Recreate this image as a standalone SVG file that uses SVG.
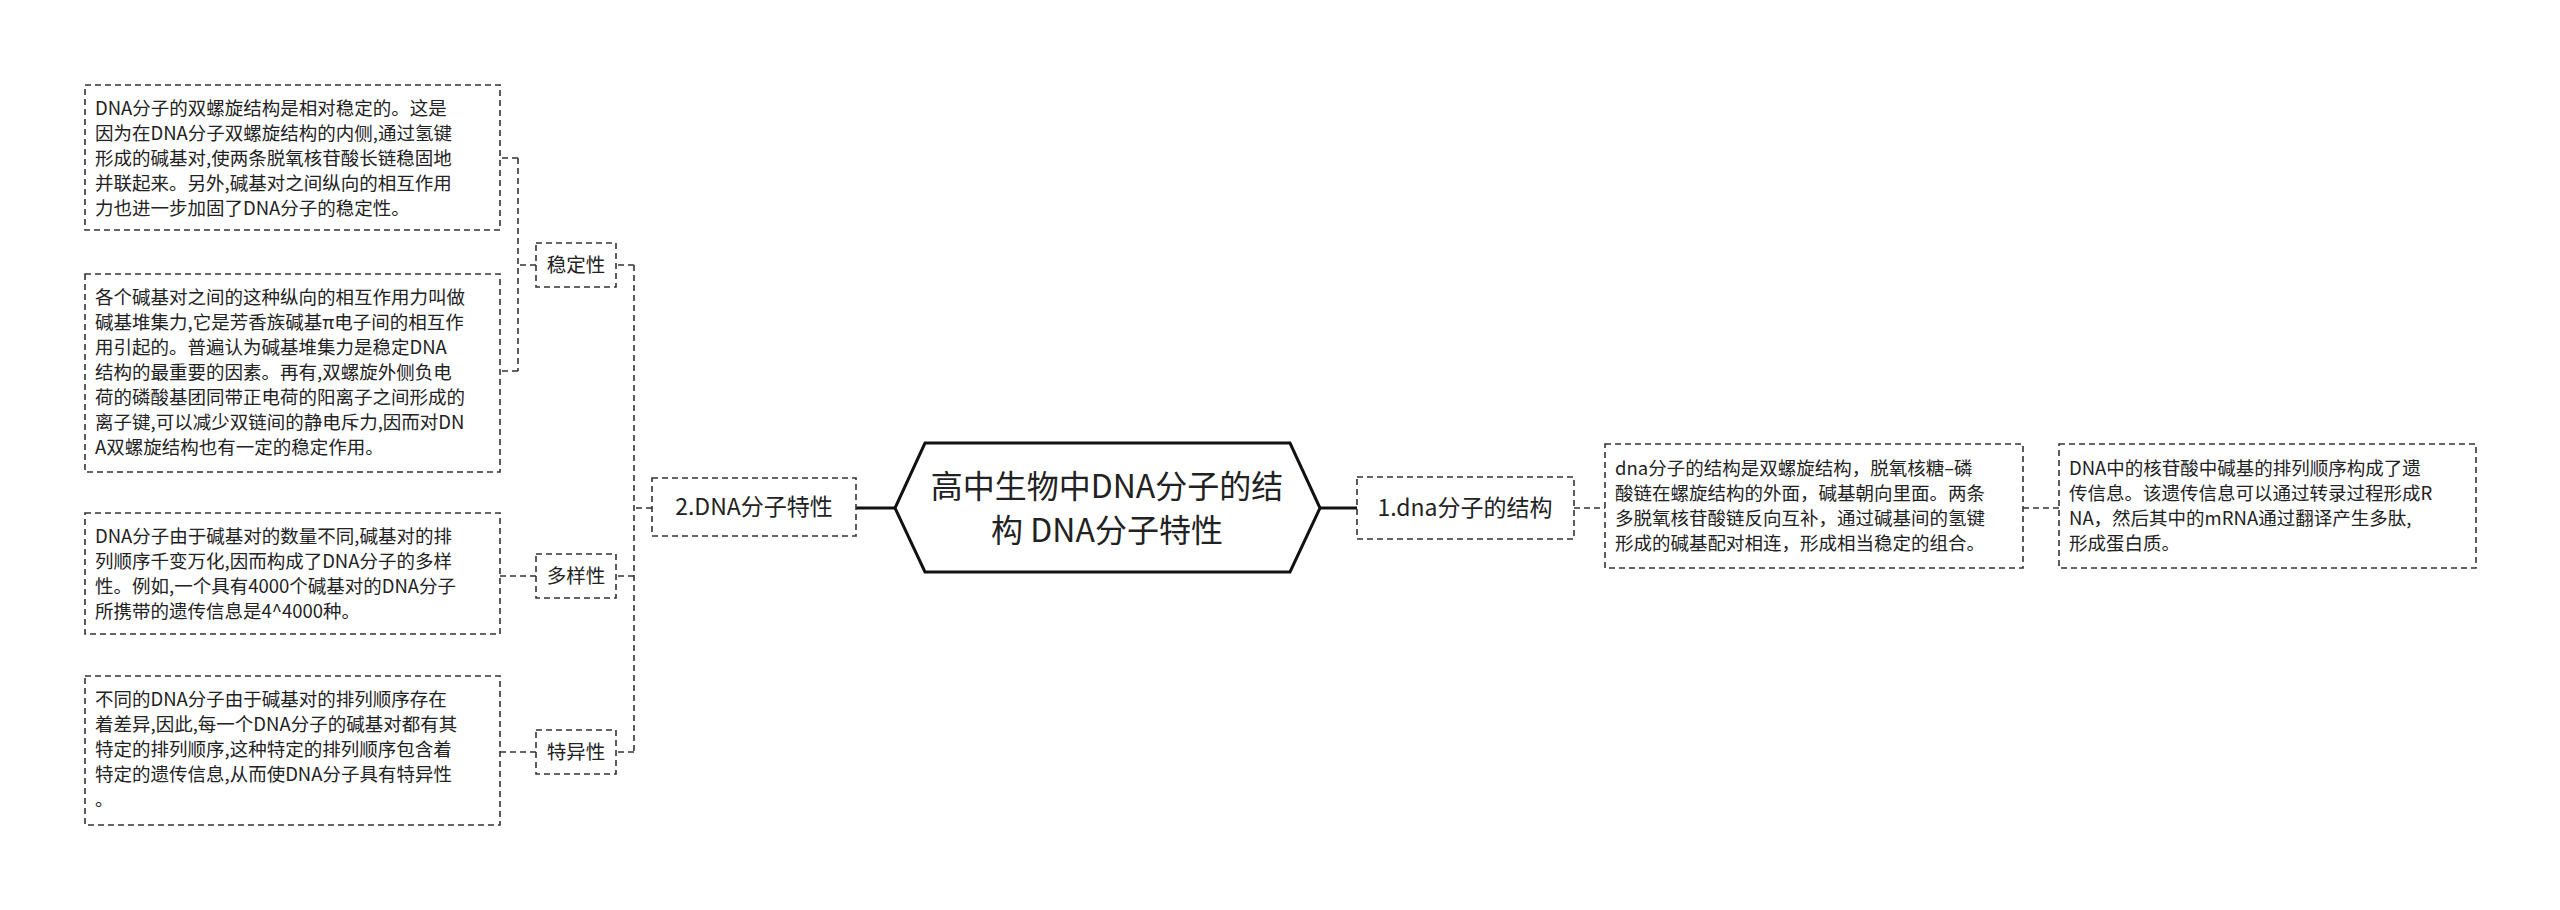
<svg xmlns="http://www.w3.org/2000/svg" width="2560" height="910" viewBox="0 0 2560 910">
<style>
text{font-family:"Noto Sans CJK SC","Noto Sans",sans-serif;fill:#222}
.t{font-size:18.5px}
.s{font-size:19.5px}
.b{fill:#fff;stroke:#333;stroke-width:1.6;stroke-dasharray:6,4}
.c{fill:none;stroke:#333;stroke-width:1.6;stroke-dasharray:6,4}
.m{fill:none;stroke:#111;stroke-width:3}
</style>
<rect width="2560" height="910" fill="#fff"/>
<g id="connectors">
<path class="m" d="M856 508H895M1320 508H1357"/>
<path class="c" d="M652 508H634M634 265V752M634 265H616M634 576H616M634 752H616"/>
<path class="c" d="M536 265H518M518 158V371M518 158H500M518 371H500"/>
<path class="c" d="M536 576H500M536 752H500"/>
<path class="c" d="M1574 508H1605M2023 508H2059"/>
</g>
<g id="center">
<path d="M925 443H1290L1320 508L1290 572H925L895 508Z" fill="#fff" stroke="#111" stroke-width="3"/>
<text x="1107" y="498" font-size="32" text-anchor="middle">高中生物中DNA分子的结</text>
<text x="1107" y="542" font-size="32" text-anchor="middle">构 DNA分子特性</text>
</g>
<g id="n2">
<rect class="b" x="652" y="478" width="204" height="58"/>
<text x="754" y="515" font-size="23" text-anchor="middle">2.DNA分子特性</text>
</g>
<g id="n1">
<rect class="b" x="1357" y="477" width="217" height="62"/>
<text x="1465" y="516" font-size="23" text-anchor="middle">1.dna分子的结构</text>
</g>
<g id="wd">
<rect class="b" x="536" y="243" width="80" height="44"/>
<text x="576" y="272" class="s" text-anchor="middle">稳定性</text>
</g>
<g id="dy">
<rect class="b" x="536" y="554" width="80" height="44"/>
<text x="576" y="583" class="s" text-anchor="middle">多样性</text>
</g>
<g id="ty">
<rect class="b" x="536" y="730" width="80" height="44"/>
<text x="576" y="759" class="s" text-anchor="middle">特异性</text>
</g>
<g id="box1">
<rect class="b" x="85" y="85" width="415" height="145"/>
<text class="t" x="95" y="115">DNA分子的双螺旋结构是相对稳定的。这是</text>
<text class="t" x="95" y="140">因为在DNA分子双螺旋结构的内侧,通过氢键</text>
<text class="t" x="95" y="165">形成的碱基对,使两条脱氧核苷酸长链稳固地</text>
<text class="t" x="95" y="190">并联起来。另外,碱基对之间纵向的相互作用</text>
<text class="t" x="95" y="215">力也进一步加固了DNA分子的稳定性。</text>
</g>
<g id="box2">
<rect class="b" x="85" y="274" width="415" height="198"/>
<text class="t" x="95" y="304">各个碱基对之间的这种纵向的相互作用力叫做</text>
<text class="t" x="95" y="329">碱基堆集力,它是芳香族碱基π电子间的相互作</text>
<text class="t" x="95" y="354">用引起的。普遍认为碱基堆集力是稳定DNA</text>
<text class="t" x="95" y="379">结构的最重要的因素。再有,双螺旋外侧负电</text>
<text class="t" x="95" y="404">荷的磷酸基团同带正电荷的阳离子之间形成的</text>
<text class="t" x="95" y="429">离子键,可以减少双链间的静电斥力,因而对DN</text>
<text class="t" x="95" y="454">A双螺旋结构也有一定的稳定作用。</text>
</g>
<g id="box3">
<rect class="b" x="85" y="513" width="415" height="121"/>
<text class="t" x="95" y="543">DNA分子由于碱基对的数量不同,碱基对的排</text>
<text class="t" x="95" y="568">列顺序千变万化,因而构成了DNA分子的多样</text>
<text class="t" x="95" y="593">性。例如,一个具有4000个碱基对的DNA分子</text>
<text class="t" x="95" y="618">所携带的遗传信息是4^4000种。</text>
</g>
<g id="box4">
<rect class="b" x="85" y="676" width="415" height="149"/>
<text class="t" x="95" y="706">不同的DNA分子由于碱基对的排列顺序存在</text>
<text class="t" x="95" y="731">着差异,因此,每一个DNA分子的碱基对都有其</text>
<text class="t" x="95" y="756">特定的排列顺序,这种特定的排列顺序包含着</text>
<text class="t" x="95" y="781">特定的遗传信息,从而使DNA分子具有特异性</text>
<text class="t" x="95" y="806">。</text>
</g>
<g id="box5">
<rect class="b" x="1605" y="444" width="418" height="124"/>
<text class="t" x="1615" y="475">dna分子的结构是双螺旋结构，脱氧核糖–磷</text>
<text class="t" x="1615" y="500">酸链在螺旋结构的外面，碱基朝向里面。两条</text>
<text class="t" x="1615" y="525">多脱氧核苷酸链反向互补，通过碱基间的氢键</text>
<text class="t" x="1615" y="550">形成的碱基配对相连，形成相当稳定的组合。</text>
</g>
<g id="box6">
<rect class="b" x="2059" y="444" width="417" height="124"/>
<text class="t" x="2069" y="475">DNA中的核苷酸中碱基的排列顺序构成了遗</text>
<text class="t" x="2069" y="500">传信息。该遗传信息可以通过转录过程形成R</text>
<text class="t" x="2069" y="525">NA，然后其中的mRNA通过翻译产生多肽,</text>
<text class="t" x="2069" y="550">形成蛋白质。</text>
</g>
</svg>
